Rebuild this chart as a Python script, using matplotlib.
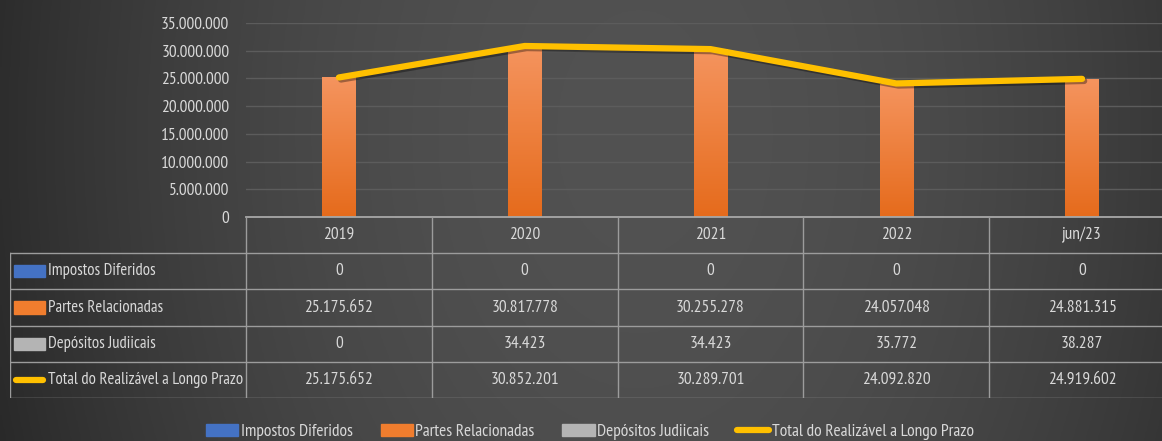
import numpy as np
import matplotlib.pyplot as plt
import matplotlib.patheffects as pe
from matplotlib.patches import Rectangle
from matplotlib.lines import Line2D

plt.rcParams['font.family'] = ['PT Sans Narrow', 'DejaVu Sans']

categories = ['2019', '2020', '2021', '2022', 'jun/23']
impostos = [0, 0, 0, 0, 0]
partes = [25175652, 30817778, 30255278, 24057048, 24881315]
depositos = [0, 34423, 34423, 35772, 38287]
total = [25175652, 30852201, 30289701, 24092820, 24919602]
series_names = ['Impostos Diferidos', 'Partes Relacionadas', 'Depósitos Judiicais',
                'Total do Realizável a Longo Prazo']
yticks = [0, 5000000, 10000000, 15000000, 20000000, 25000000, 30000000, 35000000]

c_blue = '#4472C4'
c_orange = '#F07D2E'
c_gray = '#B4B4B4'
c_yellow = '#FFC000'
c_text = '#D9D9D9'
c_line = '#9C9C9C'
fs = 12.5


def fmt(v):
    return f"{v:,}".replace(',', '.')


W, H = 1162, 441


def px(x0, y0, x1, y1):
    return [x0 / W, 1 - y1 / H, (x1 - x0) / W, (y1 - y0) / H]


fig = plt.figure(figsize=(W / 100, H / 100), dpi=100)

# background gradient
bg = fig.add_axes([0, 0, 1, 1], zorder=-10)
gx = np.linspace(0, 1, 400)
gy = np.linspace(0, 1, 150)
GX, GY = np.meshgrid(gx, gy)
lum = 0.32 - 0.17 * ((GX - 0.55) / 0.6) ** 2 - 0.03 * (GY - 0.3) ** 2
bg.imshow(np.dstack([lum, lum, lum]).clip(0, 1), aspect='auto', extent=[0, 1, 0, 1])
bg.axis('off')

# chart
ax = fig.add_axes(px(246, 23, 1175, 217))
ax.patch.set_alpha(0)
x = np.arange(len(categories))
bw = 0.18
ax.bar(x - 0.22, impostos, bw, color=c_blue, zorder=2)
orange_bars = ax.bar(x, partes, bw, color=c_orange, zorder=2)
ax.bar(x + 0.22, depositos, bw, color=c_gray, zorder=2)

# light-to-dark gradient on the orange bars
top_c = np.array([0.96, 0.58, 0.37])
bot_c = np.array([0.90, 0.42, 0.11])
t = np.linspace(0, 1, 100)[:, None]
grad = (top_c * (1 - t) + bot_c * t)[:, None, :]
for b in orange_bars:
    bx, by, bwid, bh = b.get_x(), b.get_y(), b.get_width(), b.get_height()
    im = ax.imshow(grad, extent=[bx, bx + bwid, by, by + bh], aspect='auto',
                   origin='upper', zorder=2.1)
    im.set_clip_path(b)

ax.plot(x, total, color=c_yellow, lw=4.5, solid_capstyle='round', zorder=3,
        path_effects=[pe.SimpleLineShadow(offset=(1.5, -1.5), alpha=0.35), pe.Normal()])
ax.set_xlim(-0.5, 4.5)
ax.set_ylim(0, 35000000)
ax.set_yticks(yticks)
ax.set_yticklabels([fmt(v) for v in yticks], color=c_text, fontsize=fs)
ax.set_xticks([])
ax.tick_params(axis='y', length=0, pad=12)
ax.grid(axis='y', color='#5C5C5C', lw=1, zorder=0)
for s in ['top', 'right', 'left']:
    ax.spines[s].set_visible(False)
ax.spines['bottom'].set_color('#A8A8A8')
ax.spines['bottom'].set_linewidth(1.3)

# data table
tab = fig.add_axes(px(10, 217, 1175, 398))
xmin = -0.5 - 236 / 185.8
tab.set_xlim(xmin, 4.5)
tab.set_ylim(5, 0)
tab.axis('off')
for r in range(1, 6):
    tab.plot([xmin, 4.5], [r, r], color=c_line, lw=1)
for i in range(6):
    tab.plot([-0.5 + i, -0.5 + i], [0, 5], color=c_line, lw=1)
tab.plot([xmin, xmin], [1, 5], color=c_line, lw=1)

for i, c in enumerate(categories):
    tab.text(i, 0.5, c, ha='center', va='center', color=c_text, fontsize=fs)

rows = [impostos, partes, depositos, total]
colors = [c_blue, c_orange, c_gray, c_yellow]
u = 1 / 185.8
for r, (name, vals, col) in enumerate(zip(series_names, rows, colors)):
    yc = r + 1.5
    if r < 3:
        tab.add_patch(Rectangle((xmin + 4 * u, yc - 0.17), 31 * u, 0.34, color=col))
    else:
        tab.plot([xmin + 6 * u, xmin + 33 * u], [yc, yc], color=col, lw=4.5,
                 solid_capstyle='round')
    tab.text(xmin + 38 * u, yc, name, ha='left', va='center', color=c_text, fontsize=12)
    for i, v in enumerate(vals):
        tab.text(i, yc, fmt(v), ha='center', va='center', color=c_text, fontsize=fs)

# legend
handles = [Rectangle((0, 0), 1, 1, color=c_blue), Rectangle((0, 0), 1, 1, color=c_orange),
           Rectangle((0, 0), 1, 1, color=c_gray),
           Line2D([0], [0], color=c_yellow, lw=4.5, solid_capstyle='round')]
fig.legend(handles, series_names, loc='center', bbox_to_anchor=(590 / W, 1 - 432 / H),
           ncol=4, frameon=False, fontsize=fs, labelcolor=c_text, handlelength=1.85,
           handletextpad=0.15, columnspacing=1.6)

fig.savefig('out.png', dpi=100)
